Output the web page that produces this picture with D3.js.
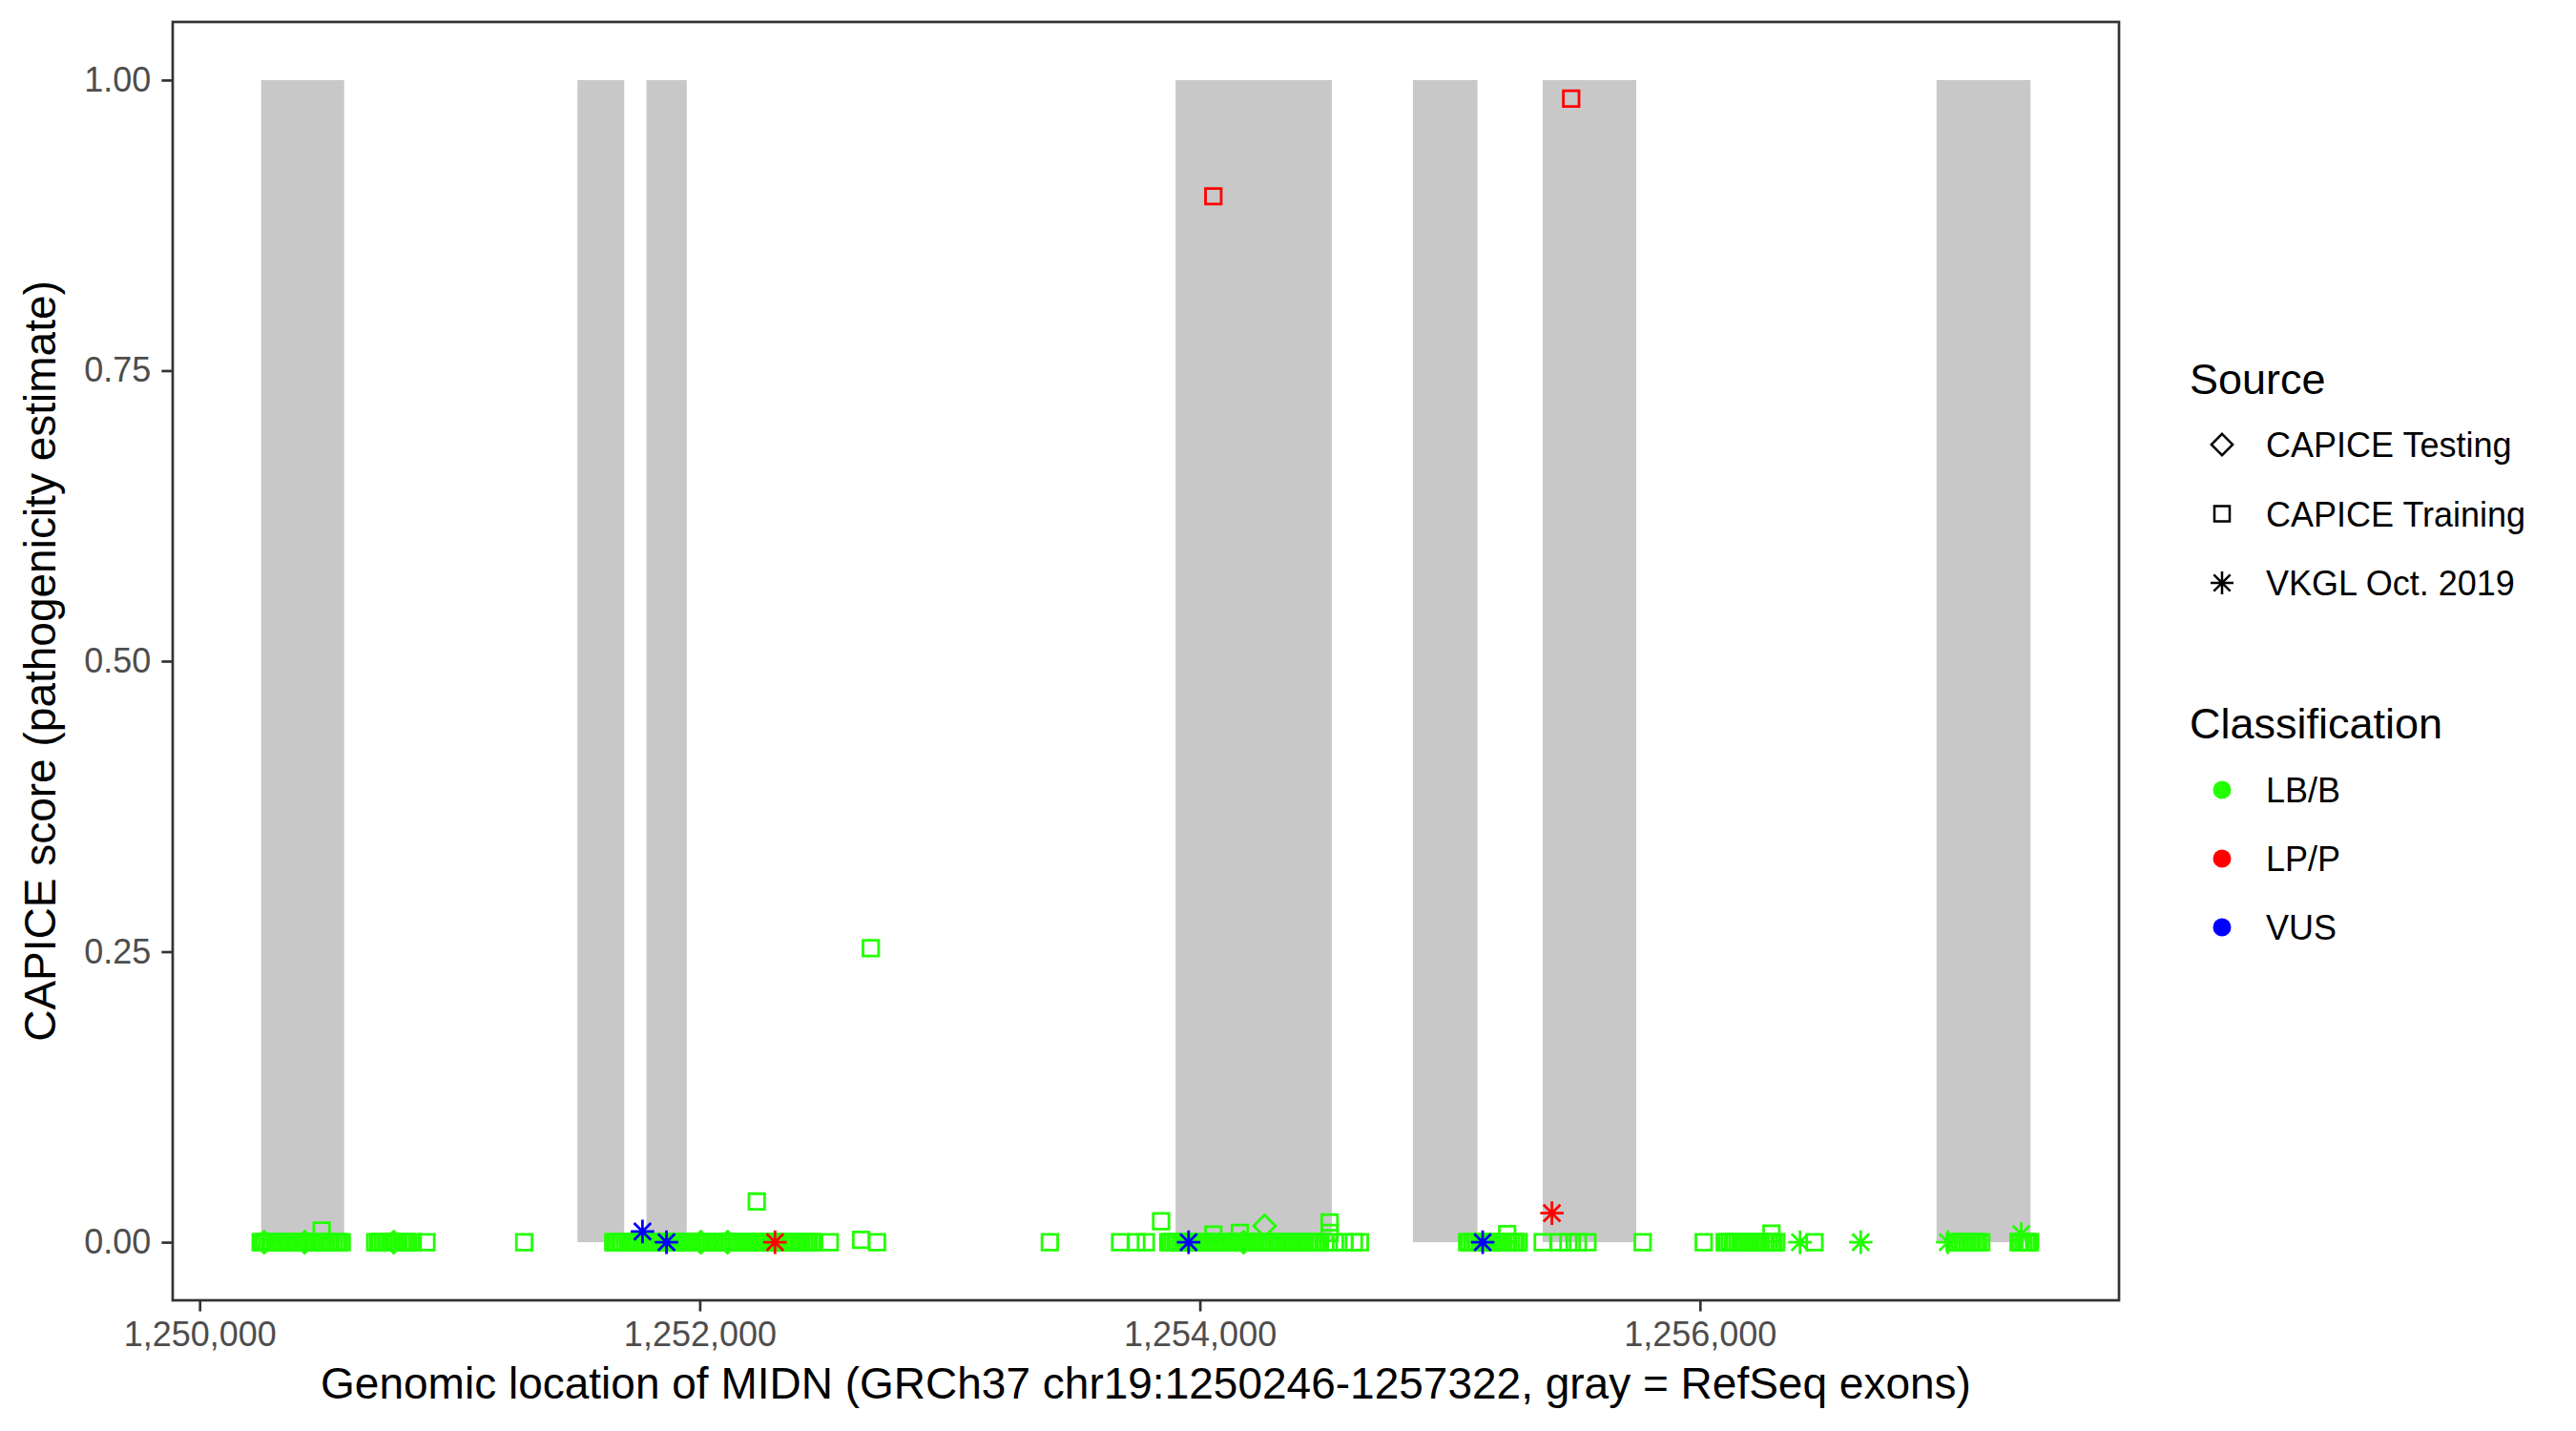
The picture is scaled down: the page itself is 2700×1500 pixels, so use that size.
<!DOCTYPE html>
<html>
<head>
<meta charset="utf-8">
<script src="https://cdn.jsdelivr.net/npm/d3@7"></script>
<style>
  body { margin: 0; background: #fff; }
  text { font-family: "Liberation Sans", Arial, sans-serif; }
</style>
</head>
<body>
<div id="chart"></div>
<script>
// RefSeq exons of MIDN (gray bands)
const exonStart = [1250246, 1251511, 1251787, 1253903, 1254852, 1255371, 1256946];
const exonEnd   = [1250578, 1251698, 1251948, 1254528, 1255110, 1255745, 1257322];

// [position, CAPICE score]
const trainingLP = [[1252240, 0], [1254054, 0.900], [1255485, 0.984]];

const trainingLB = [
  // exon 1
  [1250244, 0], [1250251, 0], [1250259, 0], [1250270, 0], [1250281, 0], [1250290, 0], [1250301, 0],
  [1250312, 0], [1250320, 0], [1250331, 0], [1250343, 0], [1250352, 0], [1250361, 0], [1250373, 0],
  [1250384, 0], [1250392, 0], [1250403, 0], [1250415, 0], [1250424, 0], [1250433, 0], [1250445, 0],
  [1250456, 0], [1250464, 0], [1250476, 0], [1250487, 0], [1250495, 0], [1250506, 0], [1250517, 0],
  [1250526, 0], [1250537, 0], [1250548, 0], [1250557, 0], [1250568, 0], [1250488, 0.010],
  // intron 1
  [1250702, 0], [1250713, 0], [1250722, 0], [1250734, 0], [1250745, 0], [1250753, 0], [1250764, 0],
  [1250776, 0], [1250785, 0], [1250796, 0], [1250808, 0], [1250817, 0], [1250826, 0], [1250833, 0],
  [1250852, 0], [1250907, 0], [1251298, 0],
  // exons 2-3
  [1251654, 0], [1251663, 0], [1251672, 0], [1251683, 0], [1251691, 0], [1251703, 0], [1251714, 0],
  [1251722, 0], [1251733, 0], [1251745, 0], [1251754, 0], [1251765, 0], [1251776, 0], [1251784, 0],
  [1251796, 0], [1251807, 0], [1251815, 0], [1251826, 0], [1251838, 0], [1251847, 0], [1251858, 0],
  [1251869, 0], [1251877, 0], [1251889, 0], [1251900, 0], [1251908, 0], [1251919, 0], [1251931, 0],
  [1251940, 0], [1251951, 0], [1251962, 0], [1251970, 0], [1251982, 0], [1251993, 0], [1252001, 0],
  [1252012, 0], [1252024, 0], [1252033, 0], [1252044, 0], [1252055, 0], [1252063, 0], [1252075, 0],
  [1252086, 0], [1252094, 0], [1252105, 0], [1252117, 0], [1252126, 0], [1252137, 0], [1252148, 0],
  [1252156, 0], [1252168, 0], [1252179, 0], [1252187, 0], [1252198, 0], [1252210, 0], [1252219, 0],
  [1252230, 0], [1252241, 0], [1252249, 0], [1252261, 0], [1252272, 0], [1252280, 0], [1252291, 0],
  [1252303, 0], [1252312, 0], [1252323, 0], [1252334, 0], [1252342, 0], [1252354, 0], [1252365, 0],
  [1252373, 0], [1252384, 0], [1252396, 0], [1252405, 0], [1252416, 0], [1252427, 0], [1252435, 0],
  [1252447, 0], [1252453, 0], [1252520, 0], [1252645, 0.002], [1252709, 0],
  [1252228, 0.035], [1252684, 0.253], [1253400, 0],
  // exon 4
  [1253681, 0], [1253746, 0], [1253784, 0], [1253845, 0.018],
  [1253874, 0], [1253882, 0], [1253893, 0], [1253904, 0], [1253912, 0], [1253924, 0], [1253935, 0],
  [1253943, 0], [1253954, 0], [1253966, 0], [1253975, 0], [1253986, 0], [1253997, 0], [1254005, 0],
  [1254017, 0], [1254028, 0], [1254036, 0], [1254047, 0], [1254059, 0], [1254068, 0], [1254079, 0],
  [1254090, 0], [1254098, 0], [1254110, 0], [1254121, 0], [1254129, 0], [1254140, 0], [1254152, 0],
  [1254161, 0], [1254172, 0], [1254183, 0], [1254191, 0], [1254203, 0], [1254214, 0], [1254222, 0],
  [1254233, 0], [1254245, 0], [1254254, 0], [1254265, 0], [1254276, 0], [1254284, 0], [1254296, 0],
  [1254307, 0], [1254315, 0], [1254326, 0], [1254338, 0], [1254347, 0], [1254358, 0], [1254369, 0],
  [1254377, 0], [1254389, 0], [1254400, 0], [1254408, 0], [1254419, 0], [1254431, 0], [1254440, 0],
  [1254451, 0], [1254462, 0], [1254470, 0], [1254480, 0], [1254502, 0], [1254540, 0], [1254578, 0],
  [1254616, 0], [1254640, 0],
  [1254054, 0.0066], [1254160, 0.008], [1254519, 0.017], [1254519, 0.008],
  // exon 5
  [1255069, 0], [1255078, 0], [1255090, 0], [1255101, 0], [1255109, 0], [1255120, 0], [1255132, 0],
  [1255141, 0], [1255152, 0], [1255163, 0], [1255171, 0], [1255183, 0], [1255194, 0], [1255202, 0],
  [1255213, 0], [1255225, 0], [1255234, 0], [1255245, 0], [1255256, 0], [1255264, 0], [1255275, 0],
  [1255229, 0.007],
  // exon 6 and beyond
  [1255371, 0], [1255436, 0], [1255474, 0], [1255512, 0], [1255550, 0], [1255771, 0], [1256015, 0],
  [1256099, 0], [1256108, 0], [1256119, 0], [1256131, 0], [1256139, 0], [1256150, 0], [1256162, 0],
  [1256171, 0], [1256182, 0], [1256193, 0], [1256201, 0], [1256213, 0], [1256224, 0], [1256232, 0],
  [1256243, 0], [1256255, 0], [1256264, 0], [1256275, 0], [1256286, 0], [1256294, 0], [1256305, 0],
  [1256286, 0.0074], [1256458, 0],
  // exon 7
  [1257018, 0], [1257027, 0], [1257038, 0], [1257050, 0], [1257059, 0], [1257070, 0], [1257081, 0],
  [1257089, 0], [1257101, 0], [1257112, 0], [1257125, 0],
  [1257274, 0], [1257283, 0], [1257294, 0], [1257305, 0], [1257313, 0], [1257320, 0]
];

const testingLB = [[1250258, 0], [1250420, 0], [1250776, 0], [1252004, 0], [1252111, 0],
  [1254175, 0], [1254259, 0.014]];

const vkglLB = [[1256400, 0], [1256643, 0], [1256991, 0], [1257285, 0.007]];
const vkglLP = [[1252301, 0], [1255408, 0.025]];
const vkglVUS = [[1251771, 0.0092], [1251867, 0], [1253955, 0], [1255131, 0]];

const sources = ["CAPICE Testing", "CAPICE Training", "VKGL Oct. 2019"];
const classes = ["LB/B", "LP/P", "VUS"];
const classColors = ["#22FF00", "#FF0000", "#0000FF"];

const xTicks = [1250000, 1252000, 1254000, 1256000];
const yTicks = [0, 0.25, 0.5, 0.75, 1];

class GenePlot {

    constructor(_config) {
        this.config = {
            parentElement: _config.parentElement,
            containerWidth: 2700,
            containerHeight: 1500,
            margin: {top: 23, right: 479, bottom: 137, left: 181}
        };
        this.initVis();
    }

    initVis() {
        let vis = this;
        vis.width = vis.config.containerWidth - vis.config.margin.left - vis.config.margin.right;
        vis.height = vis.config.containerHeight - vis.config.margin.top - vis.config.margin.bottom;

        vis.svg = d3.select(vis.config.parentElement).append("svg")
            .attr("width", vis.config.containerWidth)
            .attr("height", vis.config.containerHeight);

        vis.chart = vis.svg.append("g")
            .attr("transform", `translate(${vis.config.margin.left},${vis.config.margin.top})`);

        // ggplot style 5% expansion on both scales
        const xMin = d3.min(exonStart), xMax = d3.max(exonEnd);
        const xPad = (xMax - xMin) * 0.05;
        vis.x = d3.scaleLinear().domain([xMin - xPad, xMax + xPad]).range([0, vis.width]);
        vis.y = d3.scaleLinear().domain([-0.05, 1.05]).range([vis.height, 0]);

        vis.color = d3.scaleOrdinal().domain(classes).range(classColors);

        vis.rows = [];
        const add = (arr, source, cls) => arr.forEach(d => vis.rows.push({pos: d[0], score: d[1], source, cls}));
        add(trainingLP, "CAPICE Training", "LP/P");
        add(trainingLB, "CAPICE Training", "LB/B");
        add(testingLB, "CAPICE Testing", "LB/B");
        add(vkglLB, "VKGL Oct. 2019", "LB/B");
        add(vkglLP, "VKGL Oct. 2019", "LP/P");
        add(vkglVUS, "VKGL Oct. 2019", "VUS");

        vis.renderVis();
    }

    shapePath(source, s) {
        if (source === "CAPICE Training") {
            return `M${-s},${-s}H${s}V${s}H${-s}Z`;
        }
        if (source === "CAPICE Testing") {
            const r = s * 1.4;
            return `M0,${-r}L${r},0L0,${r}L${-r},0Z`;
        }
        const a = s * 1.5, b = a * 0.72;
        return `M${-a},0H${a}M0,${-a}V${a}M${-b},${-b}L${b},${b}M${-b},${b}L${b},${-b}`;
    }

    renderVis() {
        let vis = this;

        // exons
        vis.chart.append("g").selectAll("rect")
            .data(exonStart.map((s, i) => ({s, e: exonEnd[i]})))
            .join("rect")
            .attr("x", d => vis.x(d.s))
            .attr("width", d => vis.x(d.e) - vis.x(d.s))
            .attr("y", vis.y(1))
            .attr("height", vis.y(0) - vis.y(1))
            .attr("fill", "#C8C8C8");

        // variants
        vis.chart.append("g").selectAll("path")
            .data(vis.rows)
            .join("path")
            .attr("transform", d => `translate(${vis.x(d.pos)},${vis.y(d.score)})`)
            .attr("d", d => vis.shapePath(d.source, 8.2))
            .attr("fill", "none")
            .attr("stroke", d => vis.color(d.cls))
            .attr("stroke-width", 2.8);

        // panel border
        vis.chart.append("rect")
            .attr("width", vis.width).attr("height", vis.height)
            .attr("fill", "none").attr("stroke", "#333333").attr("stroke-width", 2.7);

        // axes
        const xAxis = vis.chart.append("g")
            .attr("transform", `translate(0,${vis.height})`)
            .call(d3.axisBottom(vis.x).tickValues(xTicks).tickFormat(d3.format(",")).tickSize(11.6).tickPadding(11));
        const yAxis = vis.chart.append("g")
            .call(d3.axisLeft(vis.y).tickValues(yTicks).tickFormat(d3.format(".2f")).tickSize(11.6).tickPadding(11));
        [xAxis, yAxis].forEach(ax => {
            ax.select(".domain").remove();
            ax.selectAll(".tick line").attr("stroke", "#333333").attr("stroke-width", 2.7);
            ax.selectAll(".tick text").attr("fill", "#4D4D4D").style("font-size", "36px")
                .style("font-family", "'Liberation Sans', Arial, sans-serif");
        });

        // axis titles
        vis.svg.append("text")
            .attr("x", vis.config.margin.left + vis.width / 2).attr("y", 1466)
            .attr("text-anchor", "middle").style("font-size", "46px")
            .text("Genomic location of MIDN (GRCh37 chr19:1250246-1257322, gray = RefSeq exons)");
        vis.svg.append("text")
            .attr("transform", `translate(58,${vis.config.margin.top + vis.height / 2}) rotate(-90)`)
            .attr("text-anchor", "middle").style("font-size", "46px")
            .text("CAPICE score (pathogenicity estimate)");

        vis.legend();
    }

    legend() {
        let vis = this;
        const lg = vis.svg.append("g");
        const titleX = 2295, keyX = 2329, labelX = 2375;

        lg.append("text").attr("x", titleX).attr("y", 413).style("font-size", "45px").text("Source");
        sources.forEach((s, i) => {
            const cy = 466 + i * 72.5;
            lg.append("path")
                .attr("transform", `translate(${keyX},${cy})`)
                .attr("d", vis.shapePath(s, 8))
                .attr("fill", "none").attr("stroke", "#000").attr("stroke-width", 2.5);
            lg.append("text").attr("x", labelX).attr("y", cy + 13).style("font-size", "36px").text(s);
        });

        lg.append("text").attr("x", titleX).attr("y", 774).style("font-size", "45px").text("Classification");
        classes.forEach((c, i) => {
            const cy = 828 + i * 72;
            lg.append("circle").attr("cx", keyX).attr("cy", cy).attr("r", 9.5).attr("fill", vis.color(c));
            lg.append("text").attr("x", labelX).attr("y", cy + 13).style("font-size", "36px").text(c);
        });
    }
}

new GenePlot({parentElement: "#chart"});
</script>
</body>
</html>
